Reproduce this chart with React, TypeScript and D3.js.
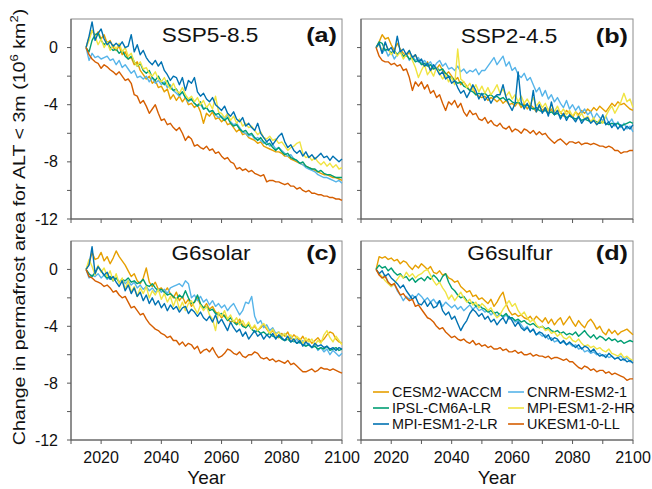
import React from 'react';
import * as d3 from 'd3';

const START_YEAR = 2015;
const MODELS = ['CESM2-WACCM', 'CNRM-ESM2-1', 'IPSL-CM6A-LR', 'MPI-ESM1-2-HR', 'MPI-ESM1-2-LR', 'UKESM1-0-LL'];
const COLORS = ['#E69F00', '#56B4E9', '#009E73', '#F0E442', '#0072B2', '#D55E00'];
const LEGEND_ORDER = [0, 2, 4, 1, 3, 5];
const PANEL_TITLES = ['SSP5-8.5', 'SSP2-4.5', 'G6solar', 'G6sulfur'];
const PANEL_TAGS = ['(a)', '(b)', '(c)', '(d)'];
const X_TICKS = [2010, 2020, 2030, 2040, 2050, 2060, 2070, 2080, 2090, 2100];
const X_LABELS = [2020, 2040, 2060, 2080, 2100];
const Y_TICKS = [0, -2, -4, -6, -8, -10, -12];
const Y_LABELS = [0, -4, -8, -12];

// ---- SSP5-8.5 ----
const SSP585_CESM = [0, 0.7, 1.2, 0.8, 1.1, 0.6, 0.9, 0.3, 0.5, 0.0,
  -0.2, 0.1, -0.5, -0.3, -0.8, -0.7, -1.2, -1.0, -1.6, -1.9,
  -2.2, -2.0, -2.5, -2.3, -2.8, -2.7, -3.1, -2.9, -3.6, -3.3,
  -3.7, -3.4, -3.8, -3.5, -4.0, -3.9, -4.2, -4.0, -4.5, -5.3,
  -4.6, -4.8, -4.5, -5.0, -4.9, -5.2, -5.0, -5.4, -5.3, -5.6,
  -5.9, -5.7, -6.1, -6.0, -6.3, -6.4, -6.5, -6.7, -6.6, -6.9,
  -7.0, -7.1, -7.2, -7.3, -7.3, -7.4, -7.6, -7.6, -7.8, -7.9,
  -8.0, -8.1, -8.2, -8.3, -8.4, -8.5, -8.6, -8.7, -8.8, -8.9,
  -8.9, -9.0, -9.1, -9.1, -9.2, -9.3];
const SSP585_CNRM = [0, -0.9, -0.4, -0.7, -0.6, -0.8, -0.7, -0.6, -0.9, -0.8,
  -1.2, -0.9, -1.4, -1.2, -1.5, -1.8, -1.6, -2.1, -2.0, -2.2,
  -2.0, -2.4, -2.1, -2.5, -2.3, -2.6, -2.4, -2.8, -2.6, -3.0,
  -3.2, -3.4, -3.1, -3.5, -3.8, -3.6, -3.9, -4.1, -4.0, -4.3,
  -4.2, -4.5, -4.4, -4.7, -4.9, -4.8, -5.0, -4.7, -5.2, -5.4,
  -5.3, -5.6, -5.9, -6.0, -6.2, -6.1, -6.4, -6.3, -6.5, -6.7,
  -6.6, -6.9, -6.8, -7.1, -7.0, -7.2, -7.4, -7.6, -7.5, -7.8,
  -7.9, -8.1, -8.2, -8.4, -8.5, -8.6, -8.7, -8.9, -9.0, -9.1,
  -9.1, -9.2, -9.3, -9.4, -9.3, -9.5];
const SSP585_IPSL = [0, -0.3, 0.5, 0.9, 1.0, 0.5, 0.2, 0.4, 0.0, -0.2,
  -0.1, -0.4, -0.2, -0.6, -0.8, -0.6, -1.0, -1.3, -1.1, -1.6,
  -1.8, -1.6, -2.1, -2.3, -2.0, -2.4, -2.6, -2.3, -2.8, -3.0,
  -2.9, -3.3, -3.1, -3.5, -3.7, -3.6, -3.9, -4.1, -3.8, -4.3,
  -4.2, -4.5, -4.4, -4.7, -4.6, -4.9, -5.1, -4.9, -5.3, -5.5,
  -5.4, -5.7, -5.9, -5.8, -6.1, -6.0, -6.3, -6.5, -6.3, -6.6,
  -6.8, -6.7, -7.0, -7.2, -7.0, -7.3, -7.5, -7.4, -7.7, -7.8,
  -7.9, -8.1, -8.0, -8.3, -8.4, -8.5, -8.5, -8.7, -8.6, -8.8,
  -8.9, -8.9, -9.0, -9.1, -9.1, -9.1];
const SSP585_MPIHR = [0, 0.5, 1.2, 0.8, 0.2, 0.6, 0.0, 0.4, -0.2, 0.2,
  -0.1, 0.3, -0.3, 0.0, -0.6, -0.4, -1.0, -1.3, -1.0, -1.5,
  -1.4, -1.8, -2.0, -1.7, -2.2, -2.4, -2.1, -2.6, -2.9, -2.5,
  -3.0, -3.2, -2.8, -3.3, -3.6, -3.4, -3.8, -3.5, -4.0, -3.7,
  -4.2, -3.9, -4.3, -3.4, -4.5, -4.6, -4.9, -4.6, -5.1, -4.8,
  -5.3, -5.0, -5.5, -5.3, -5.6, -5.5, -5.8, -6.1, -5.9, -6.3,
  -6.4, -6.2, -6.5, -6.4, -6.7, -6.6, -6.9, -7.2, -7.0, -6.9,
  -6.7, -6.6, -7.4, -7.7, -7.6, -7.9, -7.7, -8.0, -8.2, -8.0,
  -8.3, -8.1, -8.4, -8.2, -8.5, -8.4];
const SSP585_MPILR = [0, 0.8, 1.8, 0.5, 1.0, 1.3, 0.6, 0.2, 0.4, 0.1,
  0.3, 0.1, 0.4, 0.0, 0.1, 0.9, -0.3, 0.2, -0.5, -0.2,
  -0.7, -1.0, -1.2, -0.9, -1.3, -1.0, -1.6, -1.9, -2.3, -2.0,
  -2.1, -2.6, -2.1, -3.0, -2.3, -2.5, -2.1, -3.1, -3.4, -3.2,
  -3.6, -3.8, -3.5, -4.0, -4.2, -4.4, -4.1, -4.6, -4.8, -4.5,
  -5.0, -5.2, -4.9, -5.5, -5.3, -5.6, -5.8, -5.3, -6.0, -6.3,
  -6.6, -6.4, -6.8, -6.5, -6.2, -6.0, -6.6, -7.0, -6.8, -7.2,
  -7.4, -7.2, -7.6, -7.3, -7.7, -7.5, -7.8, -7.6, -7.4, -7.7,
  -7.6, -7.9, -7.6, -7.8, -8.0, -7.8];
const SSP585_UKESM = [0, -0.5, -0.8, -1.0, -1.1, -1.45, -1.2, -1.35, -1.55, -1.7,
  -1.9, -1.7, -2.0, -2.3, -2.2, -2.5, -3.3, -3.4, -3.9, -3.7,
  -4.1, -4.6, -4.3, -4.0, -4.6, -5.1, -5.0, -5.4, -5.3, -5.6,
  -5.8, -5.6, -6.0, -6.5, -6.2, -6.4, -6.9, -6.8, -7.0, -7.1,
  -6.9, -7.2, -7.1, -7.4, -7.3, -7.6, -7.8, -7.7, -8.0, -8.1,
  -8.5, -8.4, -8.6, -8.5, -8.7, -8.6, -8.8, -8.9, -9.0, -8.9,
  -9.4, -9.3, -9.3, -9.4, -9.4, -9.5, -9.6, -9.5, -9.7, -9.7,
  -9.9, -9.8, -10.0, -10.1, -10.0, -10.2, -10.2, -10.3, -10.3, -10.4,
  -10.4, -10.5, -10.5, -10.6, -10.6, -10.7];

// ---- SSP2-4.5 ----
const SSP245_CESM = [0, 0.4, 0.9, 0.6, 0.7, 0.2, -0.2, 0.3, -0.1, -0.4,
  -0.6, -0.3, -0.8, -0.5, -0.9, -1.1, -1.3, -1.0, -1.6, -1.4,
  -1.5, -1.2, -1.6, -1.9, -1.7, -2.0, -2.3, -2.1, -2.6, -2.4,
  -2.7, -3.0, -2.8, -3.3, -3.4, -3.5, -3.4, -3.7, -3.5, -3.6,
  -3.8, -3.6, -3.9, -3.7, -4.0, -3.9, -4.1, -3.8, -4.2, -3.9,
  -4.3, -4.0, -4.2, -4.5, -4.1, -4.4, -4.2, -4.6, -4.3, -4.7,
  -4.4, -4.5, -4.8, -4.4, -4.6, -4.9, -4.5, -4.7, -4.4, -4.6,
  -4.3, -4.5, -4.2, -4.4, -4.1, -4.3, -4.5, -4.2, -3.9, -4.1,
  -3.8, -4.0, -3.9, -4.1, -4.3, -4.4];
const SSP245_CNRM = [0, 0.3, -0.4, -0.1, -0.6, -0.3, -0.8, -0.5, -0.2, -0.7,
  -0.4, -0.9, -0.6, -0.9, -0.7, -1.1, -0.9, -1.2, -1.0, -1.4,
  -1.1, -0.9, -1.3, -1.1, -1.5, -1.4, -1.6, -1.3, -1.7, -1.5,
  -1.8, -1.6, -1.7, -1.5, -1.9, -1.6, -1.6, -1.3, -1.0, -0.7,
  -1.2, -0.9, -0.6, -1.3, -1.0, -1.6, -1.4, -1.9, -2.1, -1.8,
  -2.3, -2.1, -2.6, -3.1, -2.8, -3.4, -3.0, -3.6, -3.3, -3.8,
  -3.5, -3.9, -4.2, -3.7, -4.3, -4.0, -4.4, -4.1, -4.6, -4.3,
  -4.7, -4.5, -5.0, -4.6, -4.9, -5.1, -4.8, -5.3, -5.0, -5.5,
  -5.2, -5.6, -5.3, -5.7, -5.5, -5.9];
const SSP245_IPSL = [0, 0.4, 0.3, -0.2, -0.1, -0.4, -0.2, -0.5, -0.3, -0.6,
  -0.5, -0.8, -0.7, -1.0, -0.9, -1.2, -1.1, -1.3, -1.2, -1.5,
  -1.4, -1.6, -1.5, -1.8, -2.0, -2.1, -2.3, -2.5, -2.4, -2.7,
  -2.8, -3.0, -3.1, -3.3, -3.2, -3.3, -3.2, -3.4, -3.3, -3.5,
  -3.4, -3.6, -3.5, -3.7, -3.6, -3.8, -3.9, -3.8, -4.0, -4.1,
  -4.0, -4.2, -4.3, -4.2, -4.4, -4.5, -4.4, -4.6, -4.5, -4.7,
  -4.6, -4.8, -4.7, -4.9, -4.8, -4.9, -5.0, -4.9, -5.1, -5.0,
  -5.1, -5.2, -5.1, -5.2, -5.3, -5.2, -5.3, -5.4, -5.3, -5.4,
  -5.3, -5.5, -5.4, -5.3, -5.2, -5.3];
const SSP245_MPIHR = [0, 0.2, -0.2, 0.3, -0.1, -0.5, -0.2, -0.6, -0.3, -0.8,
  -0.5, -0.2, -0.9, -1.4, -2.1, -1.6, -1.2, -1.9, -1.6, -2.0,
  -1.4, -1.8, -2.2, -1.9, -2.4, -2.1, -2.6, -0.1, -2.2, -2.4,
  -2.8, -2.5, -3.0, -2.6, -3.1, -2.7, -3.2, -2.8, -3.3, -3.0,
  -2.6, -3.2, -2.9, -3.4, -3.1, -3.6, -3.3, -3.8, -3.4, -3.9,
  -3.6, -4.0, -3.5, -4.1, -3.8, -4.2, -3.9, -4.4, -4.0, -4.5,
  -4.1, -4.6, -4.3, -4.7, -4.4, -4.8, -4.5, -4.9, -4.6, -5.0,
  -4.8, -5.2, -4.9, -5.4, -5.0, -5.3, -4.8, -4.4, -4.1, -4.6,
  -4.2, -3.8, -3.2, -3.8, -3.6, -4.2];
const SSP245_MPILR = [0, 0.3, -0.4, 0.4, -0.2, 0.0, -0.4, 0.8, -0.3, -0.1,
  -0.5, -0.2, -0.7, -0.5, -1.0, -0.8, -1.3, -1.1, -1.6, -1.2,
  -1.5, -1.9, -1.7, -2.2, -2.0, -2.5, -2.3, -2.8, -3.2, -3.0,
  -3.5, -3.1, -2.6, -3.0, -3.6, -3.2, -3.7, -3.4, -3.9, -3.5,
  -3.3, -3.3, -2.6, -3.5, -4.0, -4.4, -3.9, -1.7, -3.8, -4.3,
  -3.9, -4.4, -3.0, -4.5, -4.0, -4.6, -4.2, -4.8, -3.8, -4.7,
  -4.4, -5.0, -4.6, -5.1, -4.7, -4.9, -5.2, -4.8, -5.3, -5.0,
  -4.9, -5.3, -5.1, -5.4, -5.2, -4.7, -5.4, -5.2, -5.6, -5.3,
  -5.7, -5.4, -5.8, -5.5, -5.7, -5.4];
const SSP245_UKESM = [0, -0.6, -0.9, -1.0, -1.0, -1.2, -1.1, -1.3, -1.2, -1.6,
  -1.5, -2.1, -3.0, -2.4, -2.7, -2.4, -2.9, -2.6, -3.2, -3.0,
  -3.5, -3.3, -3.9, -4.4, -3.8, -4.0, -3.7, -4.2, -3.9, -4.5,
  -4.8, -4.4, -4.7, -4.6, -5.0, -5.1, -4.9, -5.3, -5.1, -5.4,
  -5.5, -5.3, -5.6, -5.7, -5.5, -5.9, -5.7, -5.8, -6.0, -5.7,
  -5.8, -6.0, -5.8, -6.1, -5.9, -6.1, -6.0, -6.3, -6.5, -6.7,
  -6.5, -6.4, -6.6, -6.8, -6.6, -6.6, -6.7, -6.6, -6.8, -6.7,
  -6.7, -6.8, -6.7, -6.8, -6.9, -6.9, -7.0, -6.9, -7.0, -7.2,
  -7.2, -7.4, -7.3, -7.3, -7.2, -7.2];

// ---- G6solar ----
const G6SOLAR_CESM = [0, 0.4, 1.2, 0.7, 0.8, 1.2, 0.6, 0.9, 0.4, 0.8,
  1.3, 0.9, 0.6, 0.3, -0.1, -0.5, -0.3, -0.8, -1.0, -0.6,
  0.1, -0.9, -1.2, -0.9, -1.4, -1.3, -1.6, -1.3, -1.7, -2.0,
  -1.6, -2.2, -1.9, -2.4, -2.1, -2.6, -2.3, -2.0, -2.5, -2.7,
  -2.4, -2.8, -2.6, -3.0, -3.1, -3.4, -3.2, -3.5, -3.7, -3.6,
  -3.8, -3.5, -3.9, -4.1, -3.8, -4.2, -4.0, -4.3, -4.1, -3.9,
  -4.2, -4.5, -4.3, -4.6, -4.8, -4.5, -4.7, -4.4, -4.9, -4.6,
  -4.8, -5.0, -4.7, -5.1, -4.9, -5.2, -5.0, -4.8, -5.1, -4.9,
  -4.6, -4.4, -4.5, -4.9, -5.1, -5.2];
const G6SOLAR_CNRM = [0, -0.6, -0.4, -0.5, -0.3, -0.6, -0.4, -0.7, -0.5, -0.8,
  -0.6, -0.9, -0.7, -1.0, -0.8, -1.1, -0.9, -1.3, -1.1, -1.4,
  -1.2, -1.5, -1.3, -1.6, -1.4, -1.6, -1.4, -1.7, -1.3, -1.2,
  -1.1, -1.0, -1.2, -0.8, -1.0, -2.0, -1.8, -2.2, -1.9, -2.3,
  -2.1, -2.5, -2.2, -2.6, -2.4, -2.7, -2.5, -2.9, -2.6, -2.4,
  -2.8, -3.2, -2.9, -2.3, -2.4, -1.9, -3.3, -3.8, -3.6, -4.1,
  -3.9, -4.3, -4.1, -4.5, -4.4, -4.7, -4.5, -4.9, -4.7, -5.1,
  -4.9, -5.2, -5.0, -5.4, -5.2, -5.5, -5.3, -5.7, -5.5, -5.8,
  -5.6, -6.0, -5.7, -5.9, -6.1, -5.9];
const G6SOLAR_IPSL = [0, -0.3, -0.5, -0.2, 0.2, -0.1, -0.4, -0.6, -0.5, -0.8,
  -0.6, -0.9, -0.7, -0.8, -0.6, -0.9, -0.8, -1.0, -0.9, -0.7,
  -1.1, -1.2, -1.0, -1.3, -1.5, -1.4, -1.6, -1.8, -1.7, -1.9,
  -2.1, -1.8, -2.0, -1.5, -2.0, -2.4, -2.3, -1.8, -2.4, -2.7,
  -2.6, -2.9, -2.8, -3.1, -3.2, -3.1, -3.3, -3.6, -3.4, -3.7,
  -3.9, -3.7, -4.0, -4.1, -3.9, -4.2, -4.4, -4.3, -4.5, -4.4,
  -4.6, -4.5, -4.7, -4.8, -4.7, -4.9, -5.0, -4.9, -5.1, -5.0,
  -5.2, -5.1, -5.3, -5.4, -5.3, -5.5, -5.4, -5.6, -5.5, -5.6,
  -5.4, -5.7, -5.6, -5.5, -5.7, -5.6];
const G6SOLAR_MPIHR = [0, 0.7, 0.2, -0.4, 0.3, -0.2, 0.1, -0.5, -0.1, -0.8,
  -0.3, -1.0, -0.6, -1.4, -0.8, -1.6, -1.2, -1.9, -1.3, -1.7,
  -1.2, -2.0, -1.5, -1.8, -1.4, -2.1, -1.7, -2.3, -1.9, -2.6,
  -2.0, -2.8, -2.3, -2.9, -2.4, -2.2, -2.7, -3.1, -2.5, -2.9,
  -2.6, -3.2, -3.5, -4.3, -3.0, -3.3, -2.9, -3.5, -3.2, -3.7,
  -3.4, -3.9, -3.6, -4.0, -3.7, -4.2, -3.9, -4.3, -4.0, -3.8,
  -4.1, -4.5, -4.2, -4.6, -4.4, -4.7, -4.5, -4.9, -4.6, -5.0,
  -4.7, -4.9, -5.2, -4.8, -5.1, -4.9, -5.3, -5.0, -5.2, -4.6,
  -4.3, -4.8, -5.1, -4.7, -5.0, -5.3];
const G6SOLAR_MPILR = [0, 0.3, 1.6, -0.3, 0.2, -0.1, -0.4, -0.2, -0.7, -0.5,
  -0.9, -1.2, -0.8, -1.5, -1.1, -1.7, -1.3, -1.9, -1.6, -2.2,
  -1.8, -2.4, -2.0, -2.5, -2.2, -2.7, -2.4, -2.9, -2.5, -2.8,
  -2.6, -3.0, -2.7, -2.6, -3.1, -2.8, -3.0, -3.3, -3.0, -3.4,
  -3.6, -3.3, -3.7, -3.2, -3.8, -3.5, -3.9, -4.3, -3.7, -4.1,
  -4.4, -4.2, -4.7, -4.4, -4.9, -4.6, -4.3, -4.7, -4.5, -4.9,
  -4.6, -4.8, -4.5, -4.9, -4.6, -4.8, -5.0, -4.7, -5.1, -4.9,
  -5.2, -5.0, -5.4, -5.1, -5.3, -5.5, -5.2, -5.4, -5.3, -5.5,
  -5.4, -5.6, -5.5, -5.7, -5.5, -5.6];
const G6SOLAR_UKESM = [0, -0.5, -0.6, -0.8, -0.9, -1.0, -1.2, -1.1, -1.3, -1.6,
  -1.5, -1.8, -2.0, -1.9, -2.3, -2.7, -2.6, -2.9, -3.2, -3.1,
  -3.5, -3.8, -4.0, -4.2, -4.3, -4.5, -4.6, -4.8, -4.7, -5.0,
  -5.0, -5.3, -5.1, -5.4, -5.2, -5.3, -5.6, -5.4, -5.9, -5.7,
  -5.6, -5.8, -5.5, -5.9, -6.2, -6.1, -5.9, -5.6, -5.7, -5.9,
  -6.0, -5.8, -6.1, -6.2, -6.0, -6.0, -5.8, -5.9, -6.2, -6.3,
  -6.2, -6.4, -6.3, -6.5, -6.4, -6.5, -6.6, -6.4, -6.7, -6.6,
  -6.8, -7.0, -7.2, -7.2, -7.1, -7.0, -7.2, -7.1, -6.9, -7.0,
  -7.0, -7.1, -7.0, -7.1, -7.2, -7.3];

// ---- G6sulfur ----
const G6SULFUR_CESM = [0, 0.9, 0.8, 0.9, 0.7, 0.8, 0.6, 0.7, 0.4, 0.6,
  0.5, 0.2, 0.0, 0.3, 0.1, 0.4, 0.2, 0.0, 0.2, -0.2,
  -0.3, -0.1, -0.4, -0.3, -0.6, -0.7, -0.9, -0.8, -1.2, -1.4,
  -1.6, -1.5, -1.9, -1.8, -2.1, -2.0, -2.2, -2.4, -2.1, -2.6,
  -2.3, -1.9, -1.6, -2.4, -2.9, -3.2, -3.1, -3.3, -3.2, -3.4,
  -3.5, -3.3, -3.6, -3.3, -3.5, -3.7, -3.4, -3.8, -3.5, -3.9,
  -3.6, -3.4, -3.9, -3.6, -3.3, -3.7, -4.0, -3.6, -3.9, -4.1,
  -3.7, -3.5, -3.8, -4.2, -4.0, -4.4, -4.6, -4.2, -4.5, -4.3,
  -4.6, -4.4, -4.3, -4.2, -4.4, -4.6];
const G6SULFUR_CNRM = [0, -0.3, -0.6, -0.4, -0.9, -1.2, -1.0, -1.5, -1.8, -2.2,
  -1.9, -2.1, -1.8, -2.0, -1.7, -1.9, -2.2, -2.0, -2.3, -2.1,
  -2.4, -2.2, -2.6, -2.3, -2.5, -2.7, -2.5, -2.8, -2.6, -2.9,
  -2.7, -2.5, -2.8, -2.6, -2.9, -2.8, -3.0, -2.9, -3.2, -3.0,
  -3.3, -3.1, -3.4, -3.2, -3.5, -3.4, -3.7, -3.6, -3.9, -4.2,
  -4.0, -4.4, -4.2, -4.6, -4.5, -4.7, -4.6, -4.9, -4.8, -5.1,
  -5.0, -5.2, -5.1, -5.3, -5.2, -5.4, -5.3, -5.6, -5.5, -5.8,
  -5.7, -5.9, -5.8, -6.0, -5.9, -6.1, -6.0, -6.2, -6.1, -6.3,
  -6.2, -6.1, -6.4, -6.2, -6.5, -6.4];
const G6SULFUR_IPSL = [0, 0.3, 0.1, 0.2, -0.1, 0.1, -0.2, -0.4, -0.3, -0.6,
  -0.5, -0.8, -0.6, -0.9, -0.7, -0.6, -0.8, -0.5, -0.7, -0.4,
  -0.6, -0.9, -0.5, -0.3, -0.9, -1.3, -1.5, -1.8, -2.0, -1.9,
  -2.2, -2.4, -2.3, -2.6, -2.5, -2.7, -2.8, -3.0, -2.9, -3.1,
  -3.0, -3.2, -3.3, -3.1, -3.4, -3.4, -3.6, -3.5, -3.7, -3.6,
  -3.8, -3.9, -3.8, -4.0, -4.1, -4.0, -4.2, -4.1, -4.3, -4.4,
  -4.3, -4.5, -4.4, -4.6, -4.5, -4.6, -4.4, -4.7, -4.5, -4.3,
  -4.6, -4.8, -4.6, -4.9, -4.7, -4.8, -5.0, -4.8, -5.0, -4.9,
  -5.1, -5.0, -5.2, -5.1, -5.0, -5.1];
const G6SULFUR_MPIHR = [0, -0.3, -0.5, -0.8, -1.0, -1.2, -1.0, -0.7, -0.4, -0.6,
  -0.2, -0.5, -0.3, -0.6, -0.4, -0.3, -0.1, 0.0, -0.4, -0.8,
  -1.1, -0.9, -1.3, -1.6, -2.1, -1.8, -2.2, -1.9, -1.6, -2.0,
  -2.3, -2.1, -2.5, -2.3, -2.7, -2.4, -2.6, -2.9, -2.7, -3.1,
  -3.4, -3.2, -2.8, -2.5, -2.2, -2.6, -2.4, -2.9, -3.2, -3.0,
  -3.4, -3.7, -3.5, -3.9, -4.1, -4.0, -4.3, -4.2, -4.5, -4.4,
  -4.7, -4.5, -4.8, -4.9, -4.7, -5.0, -5.1, -4.9, -5.2, -5.4,
  -5.3, -5.5, -5.4, -5.6, -5.5, -5.7, -5.8, -5.6, -5.9, -6.0,
  -6.1, -5.9, -6.2, -6.1, -6.3, -6.4];
const G6SULFUR_MPILR = [0, -0.3, -0.1, -0.5, -0.3, -0.6, -0.8, -1.0, -1.3, -1.1,
  -1.5, -1.8, -2.1, -1.9, -2.4, -2.5, -2.2, -2.6, -2.3, -2.7,
  -2.6, -2.2, -2.9, -3.2, -3.0, -3.5, -3.3, -3.8, -4.3, -3.9,
  -3.6, -3.1, -2.8, -3.0, -3.3, -3.1, -3.5, -3.3, -3.7, -3.5,
  -3.9, -3.6, -3.4, -3.8, -3.3, -3.6, -4.0, -3.7, -4.1, -4.3,
  -4.1, -4.4, -4.2, -4.6, -4.4, -4.5, -4.8, -4.6, -5.0, -4.8,
  -4.9, -5.2, -5.0, -5.3, -5.1, -5.3, -5.5, -5.3, -5.6, -5.4,
  -5.5, -5.8, -5.6, -5.9, -6.1, -6.0, -6.2, -5.9, -6.1, -6.3,
  -6.2, -6.4, -6.3, -6.5, -6.4, -6.6];
const G6SULFUR_UKESM = [0, -0.4, -0.6, -0.5, -0.9, -1.1, -1.0, -1.4, -1.8, -1.7,
  -2.0, -2.2, -2.1, -2.6, -2.5, -2.8, -3.1, -3.4, -3.5, -3.7,
  -4.0, -4.2, -4.1, -4.4, -4.6, -4.8, -4.7, -4.9, -5.0, -4.9,
  -5.1, -5.2, -5.0, -5.3, -5.2, -5.4, -5.3, -5.5, -5.4, -5.6,
  -5.6, -5.5, -5.7, -5.6, -5.8, -5.8, -5.7, -5.9, -5.8, -6.0,
  -6.0, -5.9, -6.1, -6.0, -6.1, -6.1, -6.2, -6.1, -6.3, -6.2,
  -6.2, -6.3, -6.4, -6.3, -6.5, -6.5, -6.7, -6.9, -7.0, -6.8,
  -6.9, -7.1, -7.0, -7.2, -7.1, -7.1, -7.3, -7.2, -7.4, -7.3,
  -7.4, -7.5, -7.6, -7.8, -7.7, -7.7];

const PANEL_SERIES = [
  [SSP585_CESM, SSP585_CNRM, SSP585_IPSL, SSP585_MPIHR, SSP585_MPILR, SSP585_UKESM],
  [SSP245_CESM, SSP245_CNRM, SSP245_IPSL, SSP245_MPIHR, SSP245_MPILR, SSP245_UKESM],
  [G6SOLAR_CESM, G6SOLAR_CNRM, G6SOLAR_IPSL, G6SOLAR_MPIHR, G6SOLAR_MPILR, G6SOLAR_UKESM],
  [G6SULFUR_CESM, G6SULFUR_CNRM, G6SULFUR_IPSL, G6SULFUR_MPIHR, G6SULFUR_MPILR, G6SULFUR_UKESM],
];

const W = 652;
const H = 489;
const FONT = 'Liberation Sans, Arial, Helvetica, sans-serif';

const PANELS = [
  { x0: 71, x1: 342, y0: 19, y1: 219, titleX: 210, titleY: 42, left: true, bottom: false },
  { x0: 361, x1: 633, y0: 19, y1: 219, titleX: 509, titleY: 43, left: false, bottom: false },
  { x0: 71, x1: 342, y0: 241, y1: 440, titleX: 211, titleY: 260, left: true, bottom: true },
  { x0: 361, x1: 633, y0: 241, y1: 440, titleX: 510, titleY: 260, left: false, bottom: true },
];

const AXIS_COLOR = '#595959';
const FRAME_COLOR = '#8c8c8c';

function Panel({ idx }: { idx: number }) {
  const p = PANELS[idx];
  const x = d3.scaleLinear().domain([2010, 2100]).range([p.x0, p.x1]);
  const y = d3.scaleLinear().domain([-12, 2]).range([p.y1, p.y0]);
  const line = d3
    .line<number>()
    .x((_, i) => x(START_YEAR + i))
    .y((v) => y(v));
  const series = PANEL_SERIES[idx];
  return (
    <g>
      <rect x={p.x0} y={p.y0} width={p.x1 - p.x0} height={p.y1 - p.y0} fill="none" stroke={FRAME_COLOR} strokeWidth={1} />
      {series.map((s, k) => (
        <path key={k} d={line(s) || ''} fill="none" stroke={COLORS[k]} strokeWidth={1.4} strokeLinejoin="round" />
      ))}
      <line x1={p.x0} x2={p.x0} y1={p.y0} y2={p.y1} stroke={AXIS_COLOR} strokeWidth={1} />
      <line x1={p.x0} x2={p.x1} y1={p.y1} y2={p.y1} stroke={AXIS_COLOR} strokeWidth={1} />
      {Y_TICKS.map((t) => (
        <line key={'yt' + t} x1={p.x0 - 4} x2={p.x0} y1={y(t)} y2={y(t)} stroke={AXIS_COLOR} strokeWidth={1} />
      ))}
      {X_TICKS.map((t) => (
        <line key={'xt' + t} x1={x(t)} x2={x(t)} y1={p.y1} y2={p.y1 + 4} stroke={AXIS_COLOR} strokeWidth={1} />
      ))}
      {p.left &&
        Y_LABELS.map((t) => (
          <text key={'yl' + t} x={p.x0 - 13} y={y(t)} dy="0.35em" textAnchor="end" fontSize={16} fill="#111" fontFamily={FONT}>
            {t}
          </text>
        ))}
      {p.bottom &&
        X_LABELS.map((t) => (
          <text key={'xl' + t} x={x(t)} y={p.y1 + 23} textAnchor="middle" fontSize={16} fill="#111" fontFamily={FONT}>
            {t}
          </text>
        ))}
      {p.bottom && (
        <text x={(p.x0 + p.x1) / 2} y={p.y1 + 44} textAnchor="middle" fontSize={19} fill="#111" fontFamily={FONT}>
          Year
        </text>
      )}
      <text
        transform={`translate(${p.titleX},${p.titleY}) scale(1.13,1)`}
        textAnchor="middle"
        fontSize={20}
        fill="#111"
        fontFamily={FONT}
      >
        {PANEL_TITLES[idx]}
      </text>
      <text
        transform={`translate(${p.x1 - 5},${p.titleY}) scale(1.2,1)`}
        textAnchor="end"
        fontSize={21}
        fontWeight="bold"
        fill="#111"
        fontFamily={FONT}
      >
        {PANEL_TAGS[idx]}
      </text>
    </g>
  );
}

function Legend() {
  const cols = [373, 508];
  const rows = [392, 408, 424];
  return (
    <g>
      {LEGEND_ORDER.map((m, i) => {
        const cx = cols[Math.floor(i / 3)];
        const cy = rows[i % 3];
        return (
          <g key={MODELS[m]}>
            <line x1={cx} x2={cx + 16} y1={cy} y2={cy} stroke={COLORS[m]} strokeWidth={1.6} />
            <text x={cx + 19} y={cy} dy="0.35em" fontSize={14.4} fill="#111" fontFamily={FONT}>
              {MODELS[m]}
            </text>
          </g>
        );
      })}
    </g>
  );
}

export default function App() {
  return (
    <svg width={W} height={H} style={{ position: 'absolute', left: 0, top: 0, background: '#fff' }}>
      <rect x={0} y={0} width={W} height={H} fill="#fff" />
      {[0, 1, 2, 3].map((i) => (
        <Panel key={i} idx={i} />
      ))}
      <Legend />
      <text
        transform="translate(25,227) rotate(-90) scale(1.19,1)"
        textAnchor="middle"
        fontSize={16.5}
        fill="#111"
        fontFamily={FONT}
      >
        Change in permafrost area for ALT &lt; 3m (10
        <tspan dy={-7} fontSize={11}>6</tspan>
        <tspan dy={7}> km</tspan>
        <tspan dy={-7} fontSize={11}>2</tspan>
        <tspan dy={7}>)</tspan>
      </text>
    </svg>
  );
}
